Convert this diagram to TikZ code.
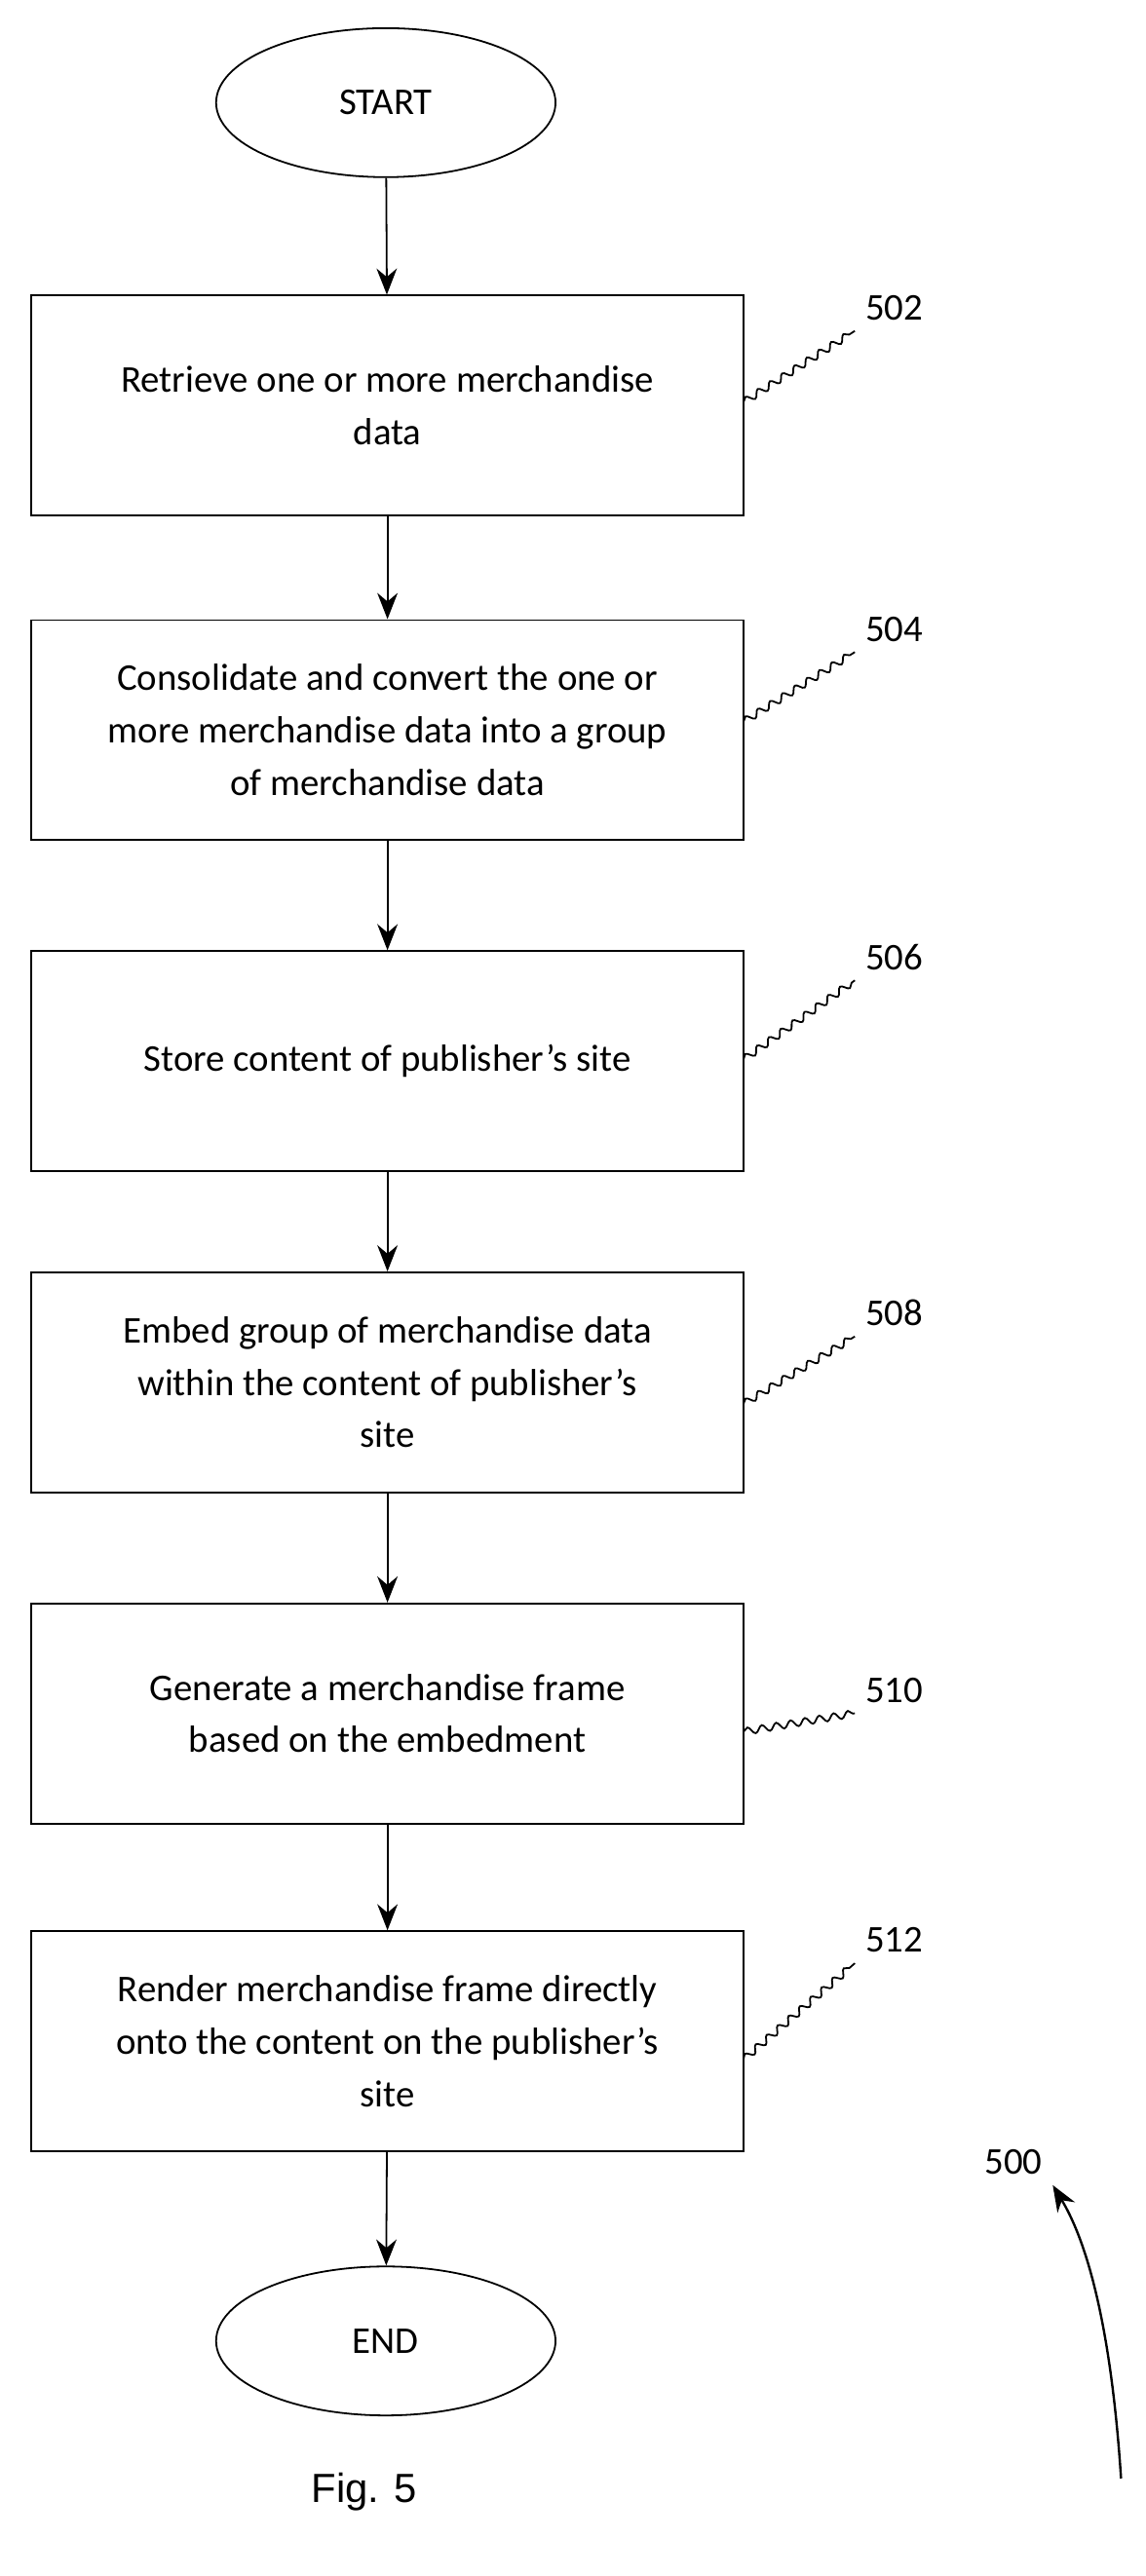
\documentclass[tikz,border=0pt]{standalone}
\usepackage{fontspec}
\setmainfont{Carlito}
\newfontfamily\figfont{Liberation Sans}
\usetikzlibrary{arrows.meta,shapes.geometric,decorations.pathmorphing}

\begin{document}
\begin{tikzpicture}[x=0.02cm,y=-0.02cm,>={Stealth[length=9pt,width=7pt]},
  every path/.style={line width=0.6pt},
  box/.style={draw,minimum width=8.6cm,minimum height=2.66cm,align=center,
    font=\fontsize{13}{18}\selectfont},
  term/.style={draw,ellipse,minimum width=4.1cm,minimum height=1.8cm,
    font=\fontsize{13}{15}\selectfont},
  lead/.style={decorate,decoration={snake,amplitude=1.2pt,segment length=5pt}},
  tag/.style={font=\fontsize{13}{15}\selectfont}]

  \useasboundingbox (0,0) rectangle (692,1556);

  % Schritte
  \node[term] (start) at (233,62) {START};
  \node[box] (s502) at (234,245) {Retrieve one or more merchandise\\data};
  \node[box] (s504) at (234,441) {Consolidate and convert the one or\\more merchandise data into a group\\of merchandise data};
  \node[box] (s506) at (234,641) {Store content of publisher's site};
  \node[box] (s508) at (234,835) {Embed group of merchandise data\\within the content of publisher's\\site};
  \node[box] (s510) at (234,1035) {Generate a merchandise frame\\based on the embedment};
  \node[box] (s512) at (234,1233) {Render merchandise frame directly\\onto the content on the publisher's\\site};
  \node[term] (end) at (233,1414) {END};

  % Pfeile
  \draw[->] (start) -- (s502);
  \draw[->] (s502) -- (s504);
  \draw[->] (s504) -- (s506);
  \draw[->] (s506) -- (s508);
  \draw[->] (s508) -- (s510);
  \draw[->] (s510) -- (s512);
  \draw[->] (s512) -- (end);

  % Bezugszeichen
  \foreach \n/\y/\ty in {502/243/186, 504/436/380, 506/640/578, 508/848/793, 510/1046/1021, 512/1244/1172}{
    \node[tag] (t\n) at (540,\ty) {\n};
    \draw[lead] (449,\y) -- (t\n.south west);
  }

  \node[tag] (t500) at (612,1306) {500};
  \coordinate (c500) at (677,1497);
  \draw[->,thick] (c500) .. controls (672,1420) and (660,1360) .. (t500.south east);

  \node[font=\figfont\fontsize{14}{16}\selectfont] (fig) at (220,1505) {Fig. 5};
\end{tikzpicture}
\end{document}
